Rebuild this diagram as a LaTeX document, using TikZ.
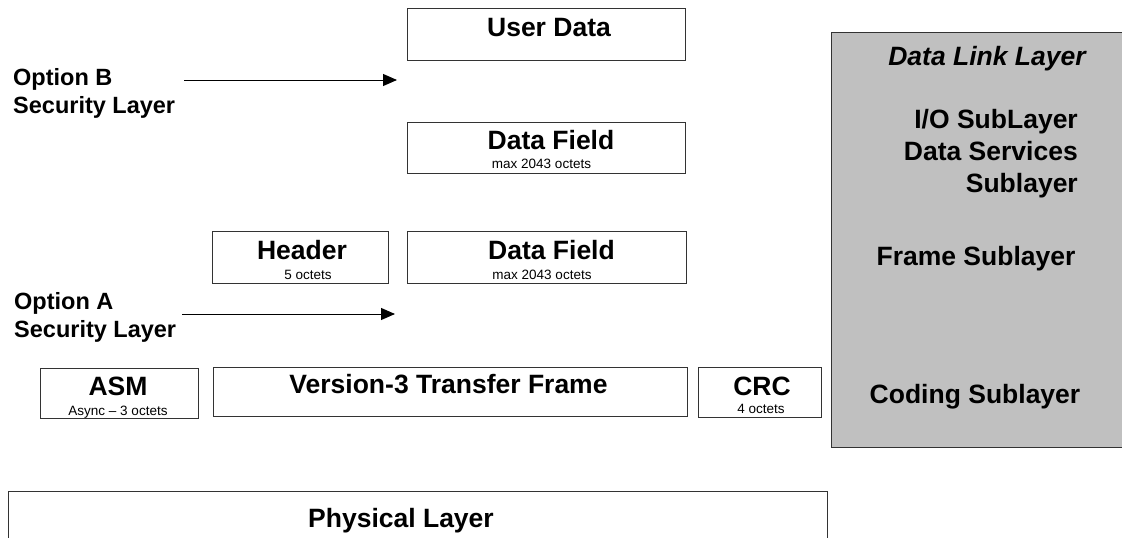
\documentclass[tikz,border=0pt]{standalone}
\usepackage{fontspec}
\setmainfont{Liberation Sans}
\usetikzlibrary{arrows.meta}
\definecolor{layergray}{HTML}{C0C0C0}
\tikzset{
  box/.style={draw=black!80, line width=1pt, fill=white, inner sep=0pt, rectangle},
  graybox/.style={draw=black!80, line width=1pt, fill=layergray, inner sep=0pt, rectangle},
  bigtxt/.style={inner sep=0pt, font=\fontsize{26.5}{30}\selectfont\bfseries},
  opttxt/.style={inner sep=0pt, anchor=base west, font=\fontsize{23.5}{28}\selectfont\bfseries},
  smalltxt/.style={inner sep=0pt, font=\fontsize{13.5}{16}\selectfont},
  arr/.style={line width=1pt, -{Triangle[length=14pt,width=12pt]}}
}
\begin{document}
\begin{tikzpicture}[x=1pt,y=-1pt]
\useasboundingbox (0,0) rectangle (1122,538);
\clip (0,0) rectangle (1122,538);
% boxes
\node[box, minimum width=278pt, minimum height=52pt] (user) at (546,34) {};
\node[box, minimum width=278pt, minimum height=51pt] (df1) at (546,147.5) {};
\node[box, minimum width=176pt, minimum height=52pt] (hdr) at (300,257) {};
\node[box, minimum width=279pt, minimum height=52pt] (df2) at (546.5,257) {};
\node[box, minimum width=158pt, minimum height=50pt] (asm) at (119,393) {};
\node[box, minimum width=474pt, minimum height=49pt] (v3) at (450,391.5) {};
\node[box, minimum width=123pt, minimum height=50pt] (crc) at (759.5,392) {};
\node[box, minimum width=819pt, minimum height=69pt] (phys) at (417.5,525.5) {};
\node[graybox, minimum width=299pt, minimum height=415pt] (dll) at (980.5,239.5) {};
% box texts
\node[bigtxt, anchor=base] (userT) at (549,36) {User Data};
\node[bigtxt, anchor=base] (df1T) at (551,149) {Data Field};
\node[smalltxt, anchor=base] (df1S) at (541.5,168) {max 2043 octets};
\node[bigtxt, anchor=base] (hdrT) at (302,259) {Header};
\node[smalltxt, anchor=base] (hdrS) at (308,279) {5 octets};
\node[bigtxt, anchor=base] (df2T) at (551.5,259) {Data Field};
\node[smalltxt, anchor=base] (df2S) at (542,279) {max 2043 octets};
\node[bigtxt, anchor=base] (v3T) at (448.5,393) {Version-3 Transfer Frame};
\node[bigtxt, anchor=base] (asmT) at (118,395) {ASM};
\node[smalltxt, anchor=base] (asmS) at (118,415) {Async -- 3 octets};
\node[bigtxt, anchor=base] (crcT) at (762,395) {CRC};
\node[smalltxt, anchor=base] (crcS) at (761,413) {4 octets};
\node[bigtxt, anchor=base] (physT) at (401,527) {Physical Layer};
% data link layer texts
\node[bigtxt, anchor=base, font=\fontsize{26.5}{30}\selectfont\bfseries\itshape] (dllT) at (987,65) {Data Link Layer};
\node[bigtxt, anchor=base east] (io) at (1078,128) {I/O SubLayer};
\node[bigtxt, anchor=base east] (ds) at (1078,160) {Data Services};
\node[bigtxt, anchor=base east] (dsb) at (1078,192) {Sublayer};
\node[bigtxt, anchor=base] (fs) at (976,265) {Frame Sublayer};
\node[bigtxt, anchor=base] (cs) at (975,403) {Coding Sublayer};
% options
\node[opttxt] (optB) at (13,85) {Option B};
\node[opttxt] (secB) at (13,113) {Security Layer};
\node[opttxt] (optA) at (14,309) {Option A};
\node[opttxt] (secA) at (14,337) {Security Layer};
% arrows
\coordinate (bS) at (184,80);
\coordinate (bE) at (397,80);
\coordinate (aS) at (182,314);
\coordinate (aE) at (395,314);
\draw[arr] (bS) -- (bE);
\draw[arr] (aS) -- (aE);
\end{tikzpicture}
\end{document}
